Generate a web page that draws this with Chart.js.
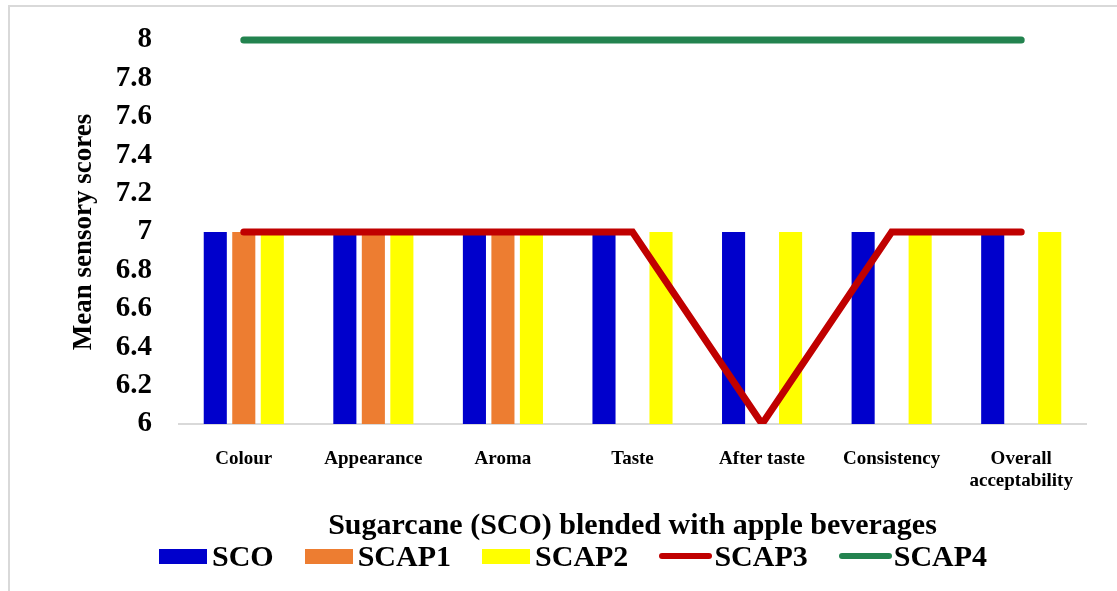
<!DOCTYPE html>
<html>
<head>
<meta charset="utf-8">
<script src="https://cdn.jsdelivr.net/npm/chart.js@4.4.0/dist/chart.umd.min.js"></script>
<style>
  html, body { margin: 0; padding: 0; background: #fff; }
  #wrap { position: relative; width: 1117px; height: 591px; overflow: hidden; }
  #frame { position: absolute; left: 8px; top: 5px; width: 1200px; height: 700px; border: 2px solid #d9d9d9; }
  #chart { position: absolute; left: 0; top: 0; }
  #legend { position: absolute; left: 159px; top: 541px; height: 30px; display: flex; align-items: center;
            font: bold 30px "Liberation Serif", "Times New Roman", serif; color: #000; line-height: 30px; }
  .item { display: flex; align-items: center; margin-right: 31px; }
  .box { width: 48px; height: 15px; margin-right: 5px; }
  .line { width: 53px; height: 6px; border-radius: 3px; margin-right: 2px; }
</style>
</head>
<body>
<div id="wrap">
  <div id="frame"></div>
  <canvas id="chart" width="1117" height="591"></canvas>
  <div id="legend"></div>
</div>
<script>
// categories and series
const categories = ['Colour', 'Appearance', 'Aroma', 'Taste', 'After taste', 'Consistency', ['Overall', 'acceptability']];
const seriesNames = ['SCO', 'SCAP1', 'SCAP2', 'SCAP3', 'SCAP4'];
const sco   = [7, 7, 7, 7, 7, 7, 7];
const scap1 = [7, 7, 7, 6, 6, 6, 6];
const scap2 = [7, 7, 7, 7, 7, 7, 7];
const scap3 = [7, 7, 7, 7, 6, 7, 7];
const scap4 = [8, 8, 8, 8, 8, 8, 8];
const yTicks = [6, 6.2, 6.4, 6.6, 6.8, 7, 7.2, 7.4, 7.6, 7.8, 8];

const serif = '"Liberation Serif", "Times New Roman", serif';
const noClipBottom = { left: false, right: false, top: false, bottom: 0 };

const barOpts = { categoryPercentage: 0.66, barPercentage: 0.81, order: 2 };
const lineOpts = { type: 'line', borderWidth: 7, pointRadius: 0, pointHoverRadius: 0,
                   borderCapStyle: 'round', borderJoinStyle: 'miter', tension: 0, fill: false,
                   clip: noClipBottom, order: 1 };

const data = {
  labels: categories,
  datasets: [
    Object.assign({ type: 'bar', label: seriesNames[0], data: sco,   backgroundColor: '#0000cc' }, barOpts),
    Object.assign({ type: 'bar', label: seriesNames[1], data: scap1, backgroundColor: '#ed7d31' }, barOpts),
    Object.assign({ type: 'bar', label: seriesNames[2], data: scap2, backgroundColor: '#ffff00' }, barOpts),
    Object.assign({ label: seriesNames[3], data: scap3, borderColor: '#c00000', backgroundColor: '#c00000' }, lineOpts),
    Object.assign({ label: seriesNames[4], data: scap4, borderColor: '#23834f', backgroundColor: '#23834f' }, lineOpts)
  ]
};

const config = {
  type: 'bar',
  data: data,
  options: {
    responsive: false,
    animation: false,
    devicePixelRatio: 1,
    layout: { padding: { left: 68, right: 31, top: 40, bottom: 47 } },
    plugins: { legend: { display: false }, tooltip: { enabled: false } },
    scales: {
      x: {
        grid: { display: false, drawTicks: false },
        border: { display: true, color: '#d9d9d9', width: 2 },
        ticks: { color: '#000', padding: 24, maxRotation: 0, autoSkip: false,
                 font: { family: serif, size: 19, weight: 'bold', lineHeight: 1.15 } },
        title: { display: true, text: 'Sugarcane (SCO) blended with apple beverages', color: '#000',
                 padding: 0, font: { family: serif, size: 30, weight: 'bold', lineHeight: 1.2 } },
        afterFit: function(scale) { scale.height = 120; }
      },
      y: {
        min: 6,
        max: 8,
        grid: { display: false, drawTicks: false },
        border: { display: false },
        afterBuildTicks: function(scale) { scale.ticks = yTicks.map(v => ({ value: v })); },
        ticks: { color: '#000', padding: 27,
                 font: { family: serif, size: 29, weight: 'bold' },
                 callback: function(value) { return String(Math.round(value * 10) / 10); } },
        title: { display: true, text: 'Mean sensory scores', color: '#000', padding: 0,
                 font: { family: serif, size: 27, weight: 'bold', lineHeight: 1.2 } },
        afterFit: function(scale) {
          scale.width = 111;
          scale.paddingTop = 0;
          scale.paddingBottom = 0;
        }
      }
    }
  }
};

const chart = new Chart(document.getElementById('chart').getContext('2d'), config);

// legend as html, built from the datasets
const legend = document.getElementById('legend');
chart.data.datasets.forEach(function(ds) {
  const item = document.createElement('div');
  item.className = 'item';
  const mark = document.createElement('span');
  mark.className = ds.type === 'line' ? 'line' : 'box';
  mark.style.background = ds.backgroundColor;
  const txt = document.createElement('span');
  txt.textContent = ds.label;
  item.appendChild(mark);
  item.appendChild(txt);
  legend.appendChild(item);
});
</script>
</body>
</html>
